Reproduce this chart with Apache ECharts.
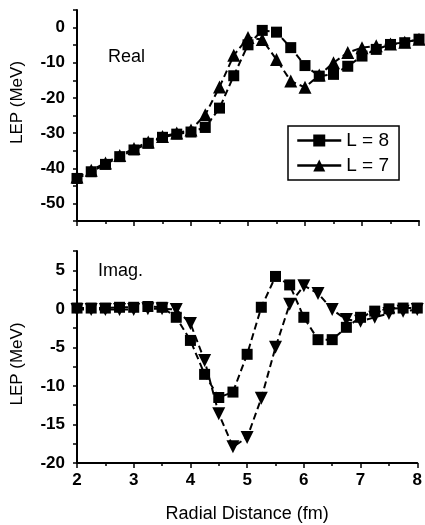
<!DOCTYPE html>
<html>
<head>
<meta charset="utf-8">
<script src="https://cdn.jsdelivr.net/npm/echarts@6/dist/echarts.min.js"></script>
<style>
html,body{margin:0;padding:0;background:#fff;}
#chart{width:425px;height:525px;}
</style>
</head>
<body>
<div id="chart"></div>
<script>
// Radial distance (fm)
var radius = [2, 2.25, 2.5, 2.75, 3, 3.25, 3.5, 3.75, 4, 4.25, 4.5, 4.75, 5, 5.25, 5.5, 5.75, 6, 6.25, 6.5, 6.75, 7, 7.25, 7.5, 7.75, 8];
// Real part of LEP (MeV)
var realL8 = [-42.9, -41.0, -38.9, -36.7, -34.8, -32.9, -31.2, -30.3, -29.7, -28.4, -22.9, -13.7, -4.9, -0.8, -1.3, -5.7, -10.8, -13.8, -13.3, -11.0, -8.1, -6.2, -4.8, -4.3, -3.3];
var realL7 = [-42.5, -40.6, -38.5, -36.4, -34.4, -32.5, -31.0, -30.0, -29.1, -24.8, -16.9, -7.9, -2.8, -3.4, -9.1, -15.2, -17.0, -13.5, -10.0, -7.1, -5.7, -5.2, -4.7, -4.2, -3.3];
// Imaginary part of LEP (MeV)
var imagL8 = [0.1, 0.1, 0.1, 0.2, 0.2, 0.3, 0.2, -1.1, -4.1, -8.5, -11.5, -10.8, -5.9, 0.2, 4.2, 3.1, -1.1, -4.0, -4.0, -2.4, -1.1, -0.3, 0.0, 0.1, 0.1];
var imagL7 = [-0.1, -0.1, -0.1, -0.1, -0.1, 0.0, 0.0, -0.1, -1.9, -6.7, -13.6, -17.9, -16.7, -11.6, -5.0, 0.6, 3.0, 2.0, -0.1, -1.4, -1.6, -1.1, -0.6, -0.3, -0.1];
var xTicks = [2, 3, 4, 5, 6, 7, 8];
var seriesNames = ['L = 8', 'L = 7'];
var panelLabels = ['Real', 'Imag.'];

function pairs(ys) { return radius.map(function (x, i) { return [x, ys[i]]; }); }

var FONT = "'Liberation Sans', Arial, Helvetica, sans-serif";
var black = '#000';

function xAxisCfg(idx, showLabels) {
  return {
    type: 'value', gridIndex: idx, min: xTicks[0], max: xTicks[xTicks.length - 1], interval: 1,
    axisLine: { show: true, onZero: false, lineStyle: { color: black, width: 2 } },
    axisTick: { show: true, inside: false, length: 5, lineStyle: { color: black, width: 1.5 } },
    minorTick: { show: true, splitNumber: 2, length: 3, lineStyle: { color: black, width: 1.5 } },
    splitLine: { show: false },
    axisLabel: { show: showLabels, color: black, fontFamily: FONT, fontSize: 17, fontWeight: 'bold', margin: 9 },
    name: showLabels ? 'Radial Distance (fm)' : '',
    nameLocation: 'middle', nameGap: 42,
    nameTextStyle: { color: black, fontFamily: FONT, fontSize: 18 }
  };
}

function yAxisCfg(idx, min, max, step, labelStep, padding) {
  return {
    type: 'value', gridIndex: idx, min: min, max: max, interval: step,
    axisLine: { show: true, onZero: false, lineStyle: { color: black, width: 2 } },
    axisTick: { show: true, inside: false, length: 4, lineStyle: { color: black, width: 1.5 } },
    splitLine: { show: false },
    axisLabel: {
      color: black, fontFamily: FONT, fontSize: 17, fontWeight: 'bold', margin: 12,
      formatter: function (v) { return (Math.abs(v % labelStep) < 1e-9) ? String(v) : ''; }
    },
    name: 'LEP (MeV)', nameLocation: 'middle', nameGap: 51,
    nameTextStyle: { color: black, fontFamily: FONT, fontSize: 17, padding: padding }
  };
}

var lineStyle = { color: black, width: 2, type: [7, 4] };

var option = {
  animation: false,
  backgroundColor: '#fff',
  grid: [
    { left: 77, top: 10, width: 342, height: 211 },
    { left: 77, top: 251, width: 342, height: 212 }
  ],
  xAxis: [xAxisCfg(0, false), xAxisCfg(1, true)],
  yAxis: [yAxisCfg(0, -55, 5, 5, 10, [0, 0, 0, 26]), yAxisCfg(1, -20, 7.5, 2.5, 5, [0, 14, 0, 0])],
  legend: {
    data: seriesNames,
    orient: 'vertical', left: 288, top: 126,
    itemWidth: 44, itemHeight: 15, itemGap: 6,
    padding: [5, 10, 5, 8],
    borderColor: black, borderWidth: 1.5,
    lineStyle: { type: 'solid', width: 2.5, color: black },
    itemStyle: { color: black },
    textStyle: { color: black, fontFamily: FONT, fontSize: 19 }
  },
  graphic: [
    { type: 'text', left: 108, top: 48, style: { text: panelLabels[0], fill: black, font: '18px ' + FONT } },
    { type: 'text', left: 98, top: 262, style: { text: panelLabels[1], fill: black, font: '18px ' + FONT } }
  ],
  series: [
    { name: seriesNames[0], type: 'line', xAxisIndex: 0, yAxisIndex: 0, data: pairs(realL8),
      symbol: 'rect', symbolSize: 11, itemStyle: { color: black }, lineStyle: lineStyle, z: 3 },
    { name: seriesNames[1], type: 'line', xAxisIndex: 0, yAxisIndex: 0, data: pairs(realL7),
      symbol: 'triangle', symbolSize: 13, itemStyle: { color: black }, lineStyle: lineStyle, z: 2 },
    { name: seriesNames[0], type: 'line', xAxisIndex: 1, yAxisIndex: 1, data: pairs(imagL8),
      symbol: 'rect', symbolSize: 11, itemStyle: { color: black }, lineStyle: lineStyle, z: 3 },
    { name: seriesNames[1], type: 'line', xAxisIndex: 1, yAxisIndex: 1, data: pairs(imagL7),
      symbol: 'triangle', symbolRotate: 180, symbolSize: 13, itemStyle: { color: black }, lineStyle: lineStyle, z: 2 }
  ]
};

var chart = echarts.init(document.getElementById('chart'), null, { renderer: 'canvas' });
chart.setOption(option);
</script>
</body>
</html>
